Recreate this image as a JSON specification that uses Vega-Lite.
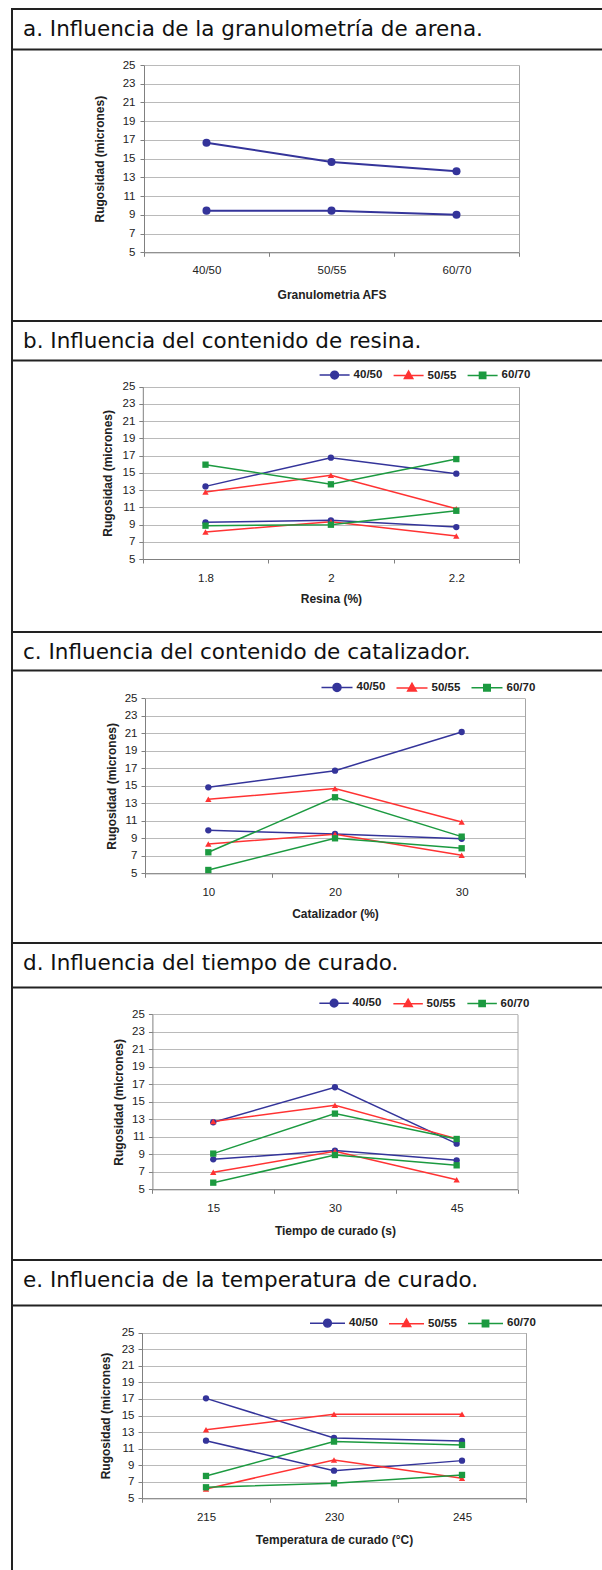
{
  "$schema": "https://vega.github.io/schema/vega-lite/v6.json",
  "padding": {"left": 11, "top": 8, "right": -51, "bottom": -6},
  "background": "white",
  "spacing": 0,
  "bounds": "flush",
  "config": {
    "view": {"stroke": "#222222", "strokeWidth": 2, "fill": "white"},
    "concat": {"spacing": 0},
    "axis": {
      "labelFont": "Liberation Sans", "labelFontSize": 11.5, "labelColor": "#222222",
      "titleFont": "Liberation Sans", "titleFontSize": 12, "titleFontWeight": "bold", "titleColor": "#222222",
      "domainColor": "#808080", "tickColor": "#808080", "tickSize": 4, "gridColor": "#bababa", "labelAngle": 0
    },
    "legend": {"direction": "horizontal",
               "labelFont": "Liberation Sans", "labelFontSize": 11.5, "labelFontWeight": "bold", "labelColor": "#222222",
               "labelOffset": 3, "columnPadding": 8, "symbolOpacity": 1, "symbolStrokeWidth": 1.5},
    "title": {"font": "DejaVu Sans", "fontSize": 21.5, "fontWeight": "normal", "color": "#111111", "anchor": "start", "frame": "group", "orient": "top", "offset": -31, "dx": 11, "baseline": "alphabetic"}
  },
  "datasets": {
    "rug": [
      {"panel": "a", "x": "40/50", "serie": "40/50", "nivel": "sup", "y": 16.7},
      {"panel": "a", "x": "50/55", "serie": "40/50", "nivel": "sup", "y": 14.65},
      {"panel": "a", "x": "60/70", "serie": "40/50", "nivel": "sup", "y": 13.65},
      {"panel": "a", "x": "40/50", "serie": "40/50", "nivel": "inf", "y": 9.45},
      {"panel": "a", "x": "50/55", "serie": "40/50", "nivel": "inf", "y": 9.45},
      {"panel": "a", "x": "60/70", "serie": "40/50", "nivel": "inf", "y": 9.0},

      {"panel": "b", "x": "1.8", "serie": "40/50", "nivel": "sup", "y": 13.43},
      {"panel": "b", "x": "2", "serie": "40/50", "nivel": "sup", "y": 16.76},
      {"panel": "b", "x": "2.2", "serie": "40/50", "nivel": "sup", "y": 14.9},
      {"panel": "b", "x": "1.8", "serie": "40/50", "nivel": "inf", "y": 9.26},
      {"panel": "b", "x": "2", "serie": "40/50", "nivel": "inf", "y": 9.49},
      {"panel": "b", "x": "2.2", "serie": "40/50", "nivel": "inf", "y": 8.71},
      {"panel": "b", "x": "1.8", "serie": "50/55", "nivel": "sup", "y": 12.78},
      {"panel": "b", "x": "2", "serie": "50/55", "nivel": "sup", "y": 14.71},
      {"panel": "b", "x": "2.2", "serie": "50/55", "nivel": "sup", "y": 10.84},
      {"panel": "b", "x": "1.8", "serie": "50/55", "nivel": "inf", "y": 8.13},
      {"panel": "b", "x": "2", "serie": "50/55", "nivel": "inf", "y": 9.33},
      {"panel": "b", "x": "2.2", "serie": "50/55", "nivel": "inf", "y": 7.67},
      {"panel": "b", "x": "1.8", "serie": "60/70", "nivel": "sup", "y": 15.95},
      {"panel": "b", "x": "2", "serie": "60/70", "nivel": "sup", "y": 13.67},
      {"panel": "b", "x": "2.2", "serie": "60/70", "nivel": "sup", "y": 16.6},
      {"panel": "b", "x": "1.8", "serie": "60/70", "nivel": "inf", "y": 8.87},
      {"panel": "b", "x": "2", "serie": "60/70", "nivel": "inf", "y": 8.98},
      {"panel": "b", "x": "2.2", "serie": "60/70", "nivel": "inf", "y": 10.6},

      {"panel": "c", "x": "10", "serie": "40/50", "nivel": "sup", "y": 14.83},
      {"panel": "c", "x": "20", "serie": "40/50", "nivel": "sup", "y": 16.73},
      {"panel": "c", "x": "30", "serie": "40/50", "nivel": "sup", "y": 21.15},
      {"panel": "c", "x": "10", "serie": "40/50", "nivel": "inf", "y": 9.91},
      {"panel": "c", "x": "20", "serie": "40/50", "nivel": "inf", "y": 9.5},
      {"panel": "c", "x": "30", "serie": "40/50", "nivel": "inf", "y": 8.95},
      {"panel": "c", "x": "10", "serie": "50/55", "nivel": "sup", "y": 13.46},
      {"panel": "c", "x": "20", "serie": "50/55", "nivel": "sup", "y": 14.68},
      {"panel": "c", "x": "30", "serie": "50/55", "nivel": "sup", "y": 10.87},
      {"panel": "c", "x": "10", "serie": "50/55", "nivel": "inf", "y": 8.35},
      {"panel": "c", "x": "20", "serie": "50/55", "nivel": "inf", "y": 9.45},
      {"panel": "c", "x": "30", "serie": "50/55", "nivel": "inf", "y": 7.06},
      {"panel": "c", "x": "10", "serie": "60/70", "nivel": "sup", "y": 7.4},
      {"panel": "c", "x": "20", "serie": "60/70", "nivel": "sup", "y": 13.69},
      {"panel": "c", "x": "30", "serie": "60/70", "nivel": "sup", "y": 9.19},
      {"panel": "c", "x": "10", "serie": "60/70", "nivel": "inf", "y": 5.38},
      {"panel": "c", "x": "20", "serie": "60/70", "nivel": "inf", "y": 9.0},
      {"panel": "c", "x": "30", "serie": "60/70", "nivel": "inf", "y": 7.86},

      {"panel": "d", "x": "15", "serie": "40/50", "nivel": "sup", "y": 12.66},
      {"panel": "d", "x": "30", "serie": "40/50", "nivel": "sup", "y": 16.66},
      {"panel": "d", "x": "45", "serie": "40/50", "nivel": "sup", "y": 10.22},
      {"panel": "d", "x": "15", "serie": "40/50", "nivel": "inf", "y": 8.43},
      {"panel": "d", "x": "30", "serie": "40/50", "nivel": "inf", "y": 9.42},
      {"panel": "d", "x": "45", "serie": "40/50", "nivel": "inf", "y": 8.31},
      {"panel": "d", "x": "15", "serie": "50/55", "nivel": "sup", "y": 12.75},
      {"panel": "d", "x": "30", "serie": "50/55", "nivel": "sup", "y": 14.6},
      {"panel": "d", "x": "45", "serie": "50/55", "nivel": "sup", "y": 10.79},
      {"panel": "d", "x": "15", "serie": "50/55", "nivel": "inf", "y": 6.94},
      {"panel": "d", "x": "30", "serie": "50/55", "nivel": "inf", "y": 9.34},
      {"panel": "d", "x": "45", "serie": "50/55", "nivel": "inf", "y": 6.1},
      {"panel": "d", "x": "15", "serie": "60/70", "nivel": "sup", "y": 9.08},
      {"panel": "d", "x": "30", "serie": "60/70", "nivel": "sup", "y": 13.65},
      {"panel": "d", "x": "45", "serie": "60/70", "nivel": "sup", "y": 10.75},
      {"panel": "d", "x": "15", "serie": "60/70", "nivel": "inf", "y": 5.76},
      {"panel": "d", "x": "30", "serie": "60/70", "nivel": "inf", "y": 8.92},
      {"panel": "d", "x": "45", "serie": "60/70", "nivel": "inf", "y": 7.74},

      {"panel": "e", "x": "215", "serie": "40/50", "nivel": "sup", "y": 17.07},
      {"panel": "e", "x": "230", "serie": "40/50", "nivel": "sup", "y": 12.28},
      {"panel": "e", "x": "245", "serie": "40/50", "nivel": "sup", "y": 11.93},
      {"panel": "e", "x": "215", "serie": "40/50", "nivel": "inf", "y": 11.96},
      {"panel": "e", "x": "230", "serie": "40/50", "nivel": "inf", "y": 8.34},
      {"panel": "e", "x": "245", "serie": "40/50", "nivel": "inf", "y": 9.55},
      {"panel": "e", "x": "215", "serie": "50/55", "nivel": "sup", "y": 13.29},
      {"panel": "e", "x": "230", "serie": "50/55", "nivel": "sup", "y": 15.14},
      {"panel": "e", "x": "245", "serie": "50/55", "nivel": "sup", "y": 15.14},
      {"panel": "e", "x": "215", "serie": "50/55", "nivel": "inf", "y": 6.13},
      {"panel": "e", "x": "230", "serie": "50/55", "nivel": "inf", "y": 9.63},
      {"panel": "e", "x": "245", "serie": "50/55", "nivel": "inf", "y": 7.41},
      {"panel": "e", "x": "215", "serie": "60/70", "nivel": "sup", "y": 7.7},
      {"panel": "e", "x": "230", "serie": "60/70", "nivel": "sup", "y": 11.85},
      {"panel": "e", "x": "245", "serie": "60/70", "nivel": "sup", "y": 11.44},
      {"panel": "e", "x": "215", "serie": "60/70", "nivel": "inf", "y": 6.33},
      {"panel": "e", "x": "230", "serie": "60/70", "nivel": "inf", "y": 6.81},
      {"panel": "e", "x": "245", "serie": "60/70", "nivel": "inf", "y": 7.82}
    ]
  },
  "vconcat": [
    {
      "width": 640, "height": 312,
      "title": {"text": "a. Influencia de la granulometría de arena."},
      "data": {"name": "rug"},
      "transform": [{"filter": "datum.panel === 'a'"}],
      "layer": [
        {
          "mark": {"type": "line", "strokeWidth": 2, "color": "#34349a"},
          "encoding": {
            "x": {"field": "x", "type": "ordinal", "bandPosition": 0.5,
                  "scale": {"type": "band", "domain": ["40/50", "50/55", "60/70"], "range": [132, 507], "paddingInner": 0, "paddingOuter": 0},
                  "axis": {"orient": "bottom", "offset": -68.7, "tickBand": "extent", "grid": false, "labelPadding": 8, "titlePadding": 14, "title": "Granulometria AFS"}},
            "y": {"field": "y", "type": "quantitative",
                  "scale": {"domain": [5, 25], "range": [243.3, 56], "nice": false, "zero": false},
                  "axis": {"orient": "left", "offset": -132, "values": [5, 7, 9, 11, 13, 15, 17, 19, 21, 23, 25], "grid": true, "labelPadding": 5, "titlePadding": 16, "title": "Rugosidad (micrones)"}},
            "detail": {"field": "nivel"}
          }
        },
        {
          "mark": {"type": "point", "filled": true, "opacity": 1, "size": 65, "color": "#34349a"},
          "encoding": {
            "x": {"field": "x", "type": "ordinal", "bandPosition": 0.5, "axis": null,
                  "scale": {"type": "band", "domain": ["40/50", "50/55", "60/70"], "range": [132, 507], "paddingInner": 0, "paddingOuter": 0}},
            "y": {"field": "y", "type": "quantitative",
                  "axis": {"orient": "right", "offset": -133, "labels": false, "ticks": false, "grid": false, "title": null, "domainColor": "#a6a6a6"}}
          }
        },
        {
          "mark": {"type": "rule", "opacity": 0},
          "encoding": {
            "x": {"field": "x", "type": "ordinal", "scale": {"type": "point", "range": [0, 640]},
                  "axis": {"orient": "top", "offset": -40, "labels": false, "ticks": false, "grid": false, "title": null, "domainColor": "#222222", "domainWidth": 2}}
          }
        }
      ],
      "resolve": {"scale": {"x": "independent"}, "axis": {"x": "independent", "y": "independent"}}
    },
    {
      "width": 640, "height": 311,
      "title": {"text": "b. Influencia del contenido de resina."},
      "data": {"name": "rug"},
      "transform": [{"filter": "datum.panel === 'b'"}],
      "layer": [
        {
          "mark": {"type": "line", "strokeWidth": 1.5},
          "encoding": {
            "x": {"field": "x", "type": "ordinal", "bandPosition": 0.5,
                  "scale": {"type": "band", "domain": ["1.8", "2", "2.2"], "range": [130.8, 507], "paddingInner": 0, "paddingOuter": 0},
                  "axis": {"orient": "bottom", "offset": -73, "tickBand": "extent", "grid": false, "labelPadding": 9, "titlePadding": 10, "title": "Resina (%)"}},
            "y": {"field": "y", "type": "quantitative",
                  "scale": {"domain": [5, 25], "range": [238, 65.7], "nice": false, "zero": false},
                  "axis": {"orient": "left", "offset": -130.8, "values": [5, 7, 9, 11, 13, 15, 17, 19, 21, 23, 25], "grid": true, "labelPadding": 4, "titlePadding": 8, "title": "Rugosidad (micrones)"}},
            "color": {"field": "serie", "type": "nominal", "scale": {"domain": ["40/50", "50/55", "60/70"], "range": ["#34349a", "#ff3333", "#1c9a40"]},
                      "legend": {"orient": "none", "legendX": 306.6, "legendY": 38, "symbolSize": 900, "title": null,
                                 "encode": {"symbols": {"update": {
                                   "shape": {"signal": "datum.value === '40/50' ? 'M-1,0H1M-0.26,0A0.26,0.26,0,1,1,0.26,0A0.26,0.26,0,1,1,-0.26,0Z' : datum.value === '50/55' ? 'M-1,0H1M0,-0.3L0.28,0.19L-0.28,0.19Z' : 'M-1,0H1M-0.21,-0.21H0.21V0.21H-0.21Z'"},
                                   "fill": {"signal": "datum.value === '40/50' ? '#34349a' : datum.value === '50/55' ? '#ff3333' : '#1c9a40'"},
                                   "strokeWidth": {"value": 1.5}
                                 }}}}},
            "detail": {"field": "nivel"}
          }
        },
        {
          "mark": {"type": "point", "filled": true, "opacity": 1, "size": 40},
          "encoding": {
            "x": {"field": "x", "type": "ordinal", "bandPosition": 0.5, "axis": null,
                  "scale": {"type": "band", "domain": ["1.8", "2", "2.2"], "range": [130.8, 507], "paddingInner": 0, "paddingOuter": 0}},
            "y": {"field": "y", "type": "quantitative",
                  "axis": {"orient": "right", "offset": -133, "labels": false, "ticks": false, "grid": false, "title": null, "domainColor": "#a6a6a6"}},
            "color": {"field": "serie", "type": "nominal", "legend": null},
            "shape": {"field": "serie", "type": "nominal", "scale": {"domain": ["40/50", "50/55", "60/70"], "range": ["circle", "triangle-up", "square"]}, "legend": null}
          }
        },
        {
          "mark": {"type": "rule", "opacity": 0},
          "encoding": {
            "x": {"field": "x", "type": "ordinal", "scale": {"type": "point", "range": [0, 640]},
                  "axis": {"orient": "top", "offset": -39, "labels": false, "ticks": false, "grid": false, "title": null, "domainColor": "#222222", "domainWidth": 2}}
          }
        }
      ],
      "resolve": {"scale": {"x": "independent"}, "axis": {"x": "independent", "y": "independent"}, "legend": {"color": "independent", "shape": "independent"}}
    },
    {
      "width": 640, "height": 311,
      "title": {"text": "c. Influencia del contenido de catalizador."},
      "data": {"name": "rug"},
      "transform": [{"filter": "datum.panel === 'c'"}],
      "layer": [
        {
          "mark": {"type": "line", "strokeWidth": 1.5},
          "encoding": {
            "x": {"field": "x", "type": "ordinal", "bandPosition": 0.5,
                  "scale": {"type": "band", "domain": ["10", "20", "30"], "range": [133, 513], "paddingInner": 0, "paddingOuter": 0},
                  "axis": {"orient": "bottom", "offset": -69.7, "tickBand": "extent", "grid": false, "labelPadding": 9, "titlePadding": 11, "title": "Catalizador (%)"}},
            "y": {"field": "y", "type": "quantitative",
                  "scale": {"domain": [5, 25], "range": [241.3, 66.3], "nice": false, "zero": false},
                  "axis": {"orient": "left", "offset": -133, "values": [5, 7, 9, 11, 13, 15, 17, 19, 21, 23, 25], "grid": true, "labelPadding": 4, "titlePadding": 6, "title": "Rugosidad (micrones)"}},
            "color": {"field": "serie", "type": "nominal", "scale": {"domain": ["40/50", "50/55", "60/70"], "range": ["#34349a", "#ff3333", "#1c9a40"]},
                      "legend": {"orient": "none", "legendX": 308.5, "legendY": 38.7, "symbolSize": 961, "title": null,
                                 "encode": {"symbols": {"update": {
                                   "shape": {"signal": "datum.value === '40/50' ? 'M-1,0H1M-0.26,0A0.26,0.26,0,1,1,0.26,0A0.26,0.26,0,1,1,-0.26,0Z' : datum.value === '50/55' ? 'M-1,0H1M0,-0.3L0.28,0.19L-0.28,0.19Z' : 'M-1,0H1M-0.21,-0.21H0.21V0.21H-0.21Z'"},
                                   "fill": {"signal": "datum.value === '40/50' ? '#34349a' : datum.value === '50/55' ? '#ff3333' : '#1c9a40'"},
                                   "strokeWidth": {"value": 1.5}
                                 }}}}},
            "detail": {"field": "nivel"}
          }
        },
        {
          "mark": {"type": "point", "filled": true, "opacity": 1, "size": 40},
          "encoding": {
            "x": {"field": "x", "type": "ordinal", "bandPosition": 0.5, "axis": null,
                  "scale": {"type": "band", "domain": ["10", "20", "30"], "range": [133, 513], "paddingInner": 0, "paddingOuter": 0}},
            "y": {"field": "y", "type": "quantitative",
                  "axis": {"orient": "right", "offset": -127, "labels": false, "ticks": false, "grid": false, "title": null, "domainColor": "#a6a6a6"}},
            "color": {"field": "serie", "type": "nominal", "legend": null},
            "shape": {"field": "serie", "type": "nominal", "scale": {"domain": ["40/50", "50/55", "60/70"], "range": ["circle", "triangle-up", "square"]}, "legend": null}
          }
        },
        {
          "mark": {"type": "rule", "opacity": 0},
          "encoding": {
            "x": {"field": "x", "type": "ordinal", "scale": {"type": "point", "range": [0, 640]},
                  "axis": {"orient": "top", "offset": -38, "labels": false, "ticks": false, "grid": false, "title": null, "domainColor": "#222222", "domainWidth": 2}}
          }
        }
      ],
      "resolve": {"scale": {"x": "independent"}, "axis": {"x": "independent", "y": "independent"}, "legend": {"color": "independent", "shape": "independent"}}
    },
    {
      "width": 640, "height": 317,
      "title": {"text": "d. Influencia del tiempo de curado."},
      "data": {"name": "rug"},
      "transform": [{"filter": "datum.panel === 'd'"}],
      "layer": [
        {
          "mark": {"type": "line", "strokeWidth": 1.5},
          "encoding": {
            "x": {"field": "x", "type": "ordinal", "bandPosition": 0.5,
                  "scale": {"type": "band", "domain": ["15", "30", "45"], "range": [140.4, 505.5], "paddingInner": 0, "paddingOuter": 0},
                  "axis": {"orient": "bottom", "offset": -70.7, "tickBand": "extent", "grid": false, "labelPadding": 9, "titlePadding": 12, "title": "Tiempo de curado (s)"}},
            "y": {"field": "y", "type": "quantitative",
                  "scale": {"domain": [5, 25], "range": [246.3, 71.3], "nice": false, "zero": false},
                  "axis": {"orient": "left", "offset": -140.4, "values": [5, 7, 9, 11, 13, 15, 17, 19, 21, 23, 25], "grid": true, "labelPadding": 4, "titlePadding": 6, "title": "Rugosidad (micrones)"}},
            "color": {"field": "serie", "type": "nominal", "scale": {"domain": ["40/50", "50/55", "60/70"], "range": ["#34349a", "#ff3333", "#1c9a40"]},
                      "legend": {"orient": "none", "legendX": 306.6, "legendY": 44.3, "symbolSize": 870, "title": null,
                                 "encode": {"symbols": {"update": {
                                   "shape": {"signal": "datum.value === '40/50' ? 'M-1,0H1M-0.26,0A0.26,0.26,0,1,1,0.26,0A0.26,0.26,0,1,1,-0.26,0Z' : datum.value === '50/55' ? 'M-1,0H1M0,-0.3L0.28,0.19L-0.28,0.19Z' : 'M-1,0H1M-0.21,-0.21H0.21V0.21H-0.21Z'"},
                                   "fill": {"signal": "datum.value === '40/50' ? '#34349a' : datum.value === '50/55' ? '#ff3333' : '#1c9a40'"},
                                   "strokeWidth": {"value": 1.5}
                                 }}}}},
            "detail": {"field": "nivel"}
          }
        },
        {
          "mark": {"type": "point", "filled": true, "opacity": 1, "size": 40},
          "encoding": {
            "x": {"field": "x", "type": "ordinal", "bandPosition": 0.5, "axis": null,
                  "scale": {"type": "band", "domain": ["15", "30", "45"], "range": [140.4, 505.5], "paddingInner": 0, "paddingOuter": 0}},
            "y": {"field": "y", "type": "quantitative",
                  "axis": {"orient": "right", "offset": -134.5, "labels": false, "ticks": false, "grid": false, "title": null, "domainColor": "#a6a6a6"}},
            "color": {"field": "serie", "type": "nominal", "legend": null},
            "shape": {"field": "serie", "type": "nominal", "scale": {"domain": ["40/50", "50/55", "60/70"], "range": ["circle", "triangle-up", "square"]}, "legend": null}
          }
        },
        {
          "mark": {"type": "rule", "opacity": 0},
          "encoding": {
            "x": {"field": "x", "type": "ordinal", "scale": {"type": "point", "range": [0, 640]},
                  "axis": {"orient": "top", "offset": -44, "labels": false, "ticks": false, "grid": false, "title": null, "domainColor": "#222222", "domainWidth": 2}}
          }
        }
      ],
      "resolve": {"scale": {"x": "independent"}, "axis": {"x": "independent", "y": "independent"}, "legend": {"color": "independent", "shape": "independent"}}
    },
    {
      "width": 640, "height": 315,
      "title": {"text": "e. Influencia de la temperatura de curado."},
      "data": {"name": "rug"},
      "transform": [{"filter": "datum.panel === 'e'"}],
      "layer": [
        {
          "mark": {"type": "line", "strokeWidth": 1.5},
          "encoding": {
            "x": {"field": "x", "type": "ordinal", "bandPosition": 0.5,
                  "scale": {"type": "band", "domain": ["215", "230", "245"], "range": [130, 514], "paddingInner": 0, "paddingOuter": 0},
                  "axis": {"orient": "bottom", "offset": -76.7, "tickBand": "extent", "grid": false, "labelPadding": 9, "titlePadding": 12, "title": "Temperatura de curado (°C)"}},
            "y": {"field": "y", "type": "quantitative",
                  "scale": {"domain": [5, 25], "range": [238.3, 72.7], "nice": false, "zero": false},
                  "axis": {"orient": "left", "offset": -130, "values": [5, 7, 9, 11, 13, 15, 17, 19, 21, 23, 25], "grid": true, "labelPadding": 4, "titlePadding": 9, "title": "Rugosidad (micrones)"}},
            "color": {"field": "serie", "type": "nominal", "scale": {"domain": ["40/50", "50/55", "60/70"], "range": ["#34349a", "#ff3333", "#1c9a40"]},
                      "legend": {"orient": "none", "legendX": 297, "legendY": 44.3, "symbolSize": 1225, "title": null,
                                 "encode": {"symbols": {"update": {
                                   "shape": {"signal": "datum.value === '40/50' ? 'M-1,0H1M-0.22,0A0.22,0.22,0,1,1,0.22,0A0.22,0.22,0,1,1,-0.22,0Z' : datum.value === '50/55' ? 'M-1,0H1M0,-0.26L0.24,0.16L-0.24,0.16Z' : 'M-1,0H1M-0.18,-0.18H0.18V0.18H-0.18Z'"},
                                   "fill": {"signal": "datum.value === '40/50' ? '#34349a' : datum.value === '50/55' ? '#ff3333' : '#1c9a40'"},
                                   "strokeWidth": {"value": 1.5}
                                 }}}}},
            "detail": {"field": "nivel"}
          }
        },
        {
          "mark": {"type": "point", "filled": true, "opacity": 1, "size": 40},
          "encoding": {
            "x": {"field": "x", "type": "ordinal", "bandPosition": 0.5, "axis": null,
                  "scale": {"type": "band", "domain": ["215", "230", "245"], "range": [130, 514], "paddingInner": 0, "paddingOuter": 0}},
            "y": {"field": "y", "type": "quantitative",
                  "axis": {"orient": "right", "offset": -126, "labels": false, "ticks": false, "grid": false, "title": null, "domainColor": "#a6a6a6"}},
            "color": {"field": "serie", "type": "nominal", "legend": null},
            "shape": {"field": "serie", "type": "nominal", "scale": {"domain": ["40/50", "50/55", "60/70"], "range": ["circle", "triangle-up", "square"]}, "legend": null}
          }
        },
        {
          "mark": {"type": "rule", "opacity": 0},
          "encoding": {
            "x": {"field": "x", "type": "ordinal", "scale": {"type": "point", "range": [0, 640]},
                  "axis": {"orient": "top", "offset": -45, "labels": false, "ticks": false, "grid": false, "title": null, "domainColor": "#222222", "domainWidth": 2}}
          }
        }
      ],
      "resolve": {"scale": {"x": "independent"}, "axis": {"x": "independent", "y": "independent"}, "legend": {"color": "independent", "shape": "independent"}}
    }
  ]
}
